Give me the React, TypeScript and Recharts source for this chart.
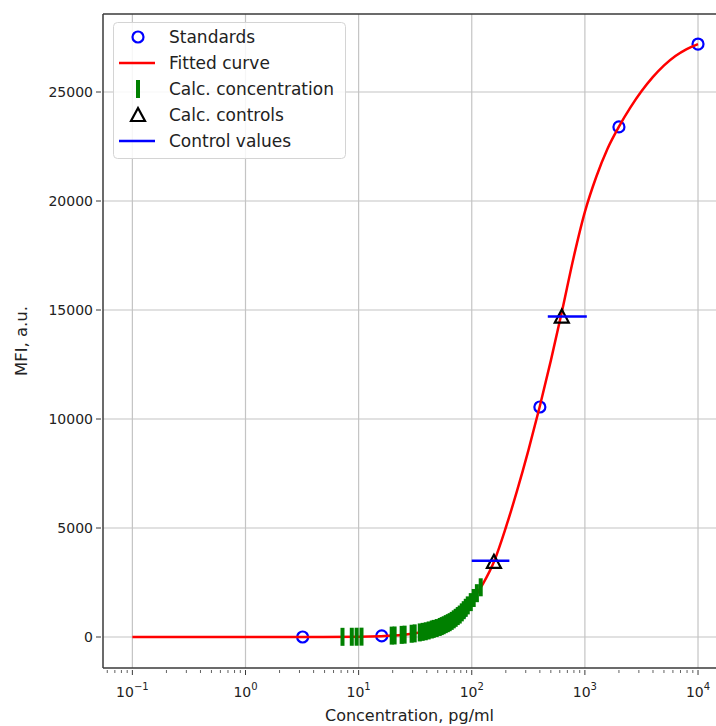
import React from 'react';
import { ComposedChart, Line, Scatter, XAxis, YAxis, ReferenceLine } from 'recharts';

// standards (5-fold dilution series)
const standardConc = [3.2, 16, 80, 400, 2000, 10000];
const standardMfi = [0, 50, 1100, 10550, 23400, 27200];

// fitted curve
const curveConc = [0.1, 1, 3.2, 10, 15.8, 20, 25.1, 31.6, 39.8, 50.1, 63.1, 79.4, 100, 125.9, 158.5, 199.5, 251.2, 316.2, 398.1, 501.2, 631, 794.3, 1000, 1259, 1585, 1995, 2512, 3162, 3981, 5012, 6310, 7943, 10000];
const curveMfi = [0, 0, 2, 15, 40, 65, 105, 170, 270, 420, 650, 1060, 1650, 2450, 3500, 5000, 6700, 8550, 10550, 12700, 15000, 17400, 19500, 21100, 22400, 23400, 24270, 25030, 25680, 26220, 26650, 26970, 27200];

// calculated sample concentrations
const sampleConc = [7.2, 8.7, 9.6, 10.6, 19.6, 20.8, 24, 25.5, 29.4, 31.3, 34.7, 36.8, 39.2, 41.6, 44.3, 46.1, 49, 52.1, 54.3, 56.5, 58.9, 61.4, 63.8, 66.5, 69.3, 72.1, 75.2, 78.3, 81.6, 84.9, 88.5, 92.2, 98, 104, 111, 120];
const sampleMfi = [8, 11, 13, 16, 63, 70, 97, 108, 149, 167, 210, 236, 263, 300, 344, 372, 410, 460, 500, 540, 590, 635, 680, 740, 810, 880, 960, 1030, 1130, 1230, 1340, 1450, 1600, 1790, 2010, 2280];

// controls
const controlConc = [157, 625];
const controlMfi = [3450, 14700];
const controlLow = [100, 470];
const controlHigh = [215, 1040];
const controlValue = [3500, 14700];

const xMajorTicks = [0.1, 1, 10, 100, 1000, 10000];
const xTickExp = ['\u22121', '0', '1', '2', '3', '4'];
const xMinorTicks = [
  0.06, 0.07, 0.08, 0.09,
  0.2, 0.3, 0.4, 0.5, 0.6, 0.7, 0.8, 0.9,
  2, 3, 4, 5, 6, 7, 8, 9,
  20, 30, 40, 50, 60, 70, 80, 90,
  200, 300, 400, 500, 600, 700, 800, 900,
  2000, 3000, 4000, 5000, 6000, 7000, 8000, 9000,
];
const yTicks = [0, 5000, 10000, 15000, 20000, 25000];

const xDomain = [0.055, 14420];
const yDomain = [-1422, 28578];

const FONT = '"DejaVu Sans", sans-serif';
const TEXT = '#222';
const SPINE = '#3a3a3a';
const GRID = '#c4c4c4';

const toPoints = (xs: number[], ys: number[]) => xs.map((x, i) => ({ x, y: ys[i] }));

const standards = toPoints(standardConc, standardMfi);
const curve = toPoints(curveConc, curveMfi);
const samples = toPoints(sampleConc, sampleMfi);
const controls = toPoints(controlConc, controlMfi);

const XTick = (props: any) => {
  const { x, y, payload } = props;
  const i = xMajorTicks.indexOf(payload.value);
  if (i < 0) {
    return <line x1={x} x2={x} y1={y} y2={y + 3} stroke={SPINE} strokeWidth={0.8} />;
  }
  return (
    <g>
      <line x1={x} x2={x} y1={y} y2={y + 5} stroke={SPINE} strokeWidth={1} />
      <text x={x} y={y + 27} textAnchor="middle" fontFamily={FONT} fontSize={14} fill={TEXT}>
        <tspan>10</tspan>
        <tspan dy={-7} fontSize={10}>{xTickExp[i]}</tspan>
      </text>
    </g>
  );
};

const YTick = (props: any) => {
  const { x, y, payload } = props;
  return (
    <g>
      <line x1={x - 5} x2={x} y1={y} y2={y} stroke={SPINE} strokeWidth={1} />
      <text x={x - 8} y={y} dy="0.35em" textAnchor="end" fontFamily={FONT} fontSize={14} fill={TEXT}>
        {payload.value}
      </text>
    </g>
  );
};

const Ring = (p: any) => (
  <circle cx={p.cx} cy={p.cy} r={5.5} fill="none" stroke="#0000ff" strokeWidth={2.2} />
);
const VBar = (p: any) => <rect x={p.cx - 2} y={p.cy - 9} width={4} height={18} fill="#008000" />;
const Tri = (p: any) => (
  <path
    d={`M${p.cx},${p.cy - 7} L${p.cx + 7},${p.cy + 6} L${p.cx - 7},${p.cy + 6} Z`}
    fill="none"
    stroke="#000"
    strokeWidth={2.2}
    strokeLinejoin="miter"
  />
);

const legendRows = ['Standards', 'Fitted curve', 'Calc. concentration', 'Calc. controls', 'Control values'];

const LegendBox = () => (
  <svg
    width={233}
    height={137}
    style={{ position: 'absolute', left: 113, top: 22 }}
  >
    <rect x={0.5} y={0.5} width={232} height={136} rx={4} fill="rgba(255,255,255,0.85)" stroke="#d4d4d4" />
    {legendRows.map((label, i) => {
      const cy = 15 + i * 26;
      let icon: React.ReactNode = null;
      if (i === 0) icon = <Ring cx={25} cy={cy} />;
      if (i === 1) icon = <line x1={6} x2={42} y1={cy} y2={cy} stroke="#ff0000" strokeWidth={2.5} />;
      if (i === 2) icon = <VBar cx={25} cy={cy} />;
      if (i === 3) icon = <Tri cx={25} cy={cy} />;
      if (i === 4) icon = <line x1={6} x2={42} y1={cy} y2={cy} stroke="#0000ff" strokeWidth={2.5} />;
      return (
        <g key={label}>
          {icon}
          <text x={56} y={cy} dy="0.35em" fontFamily={FONT} fontSize={17} fill={TEXT}>
            {label}
          </text>
        </g>
      );
    })}
  </svg>
);

export default function App() {
  return (
    <div style={{ position: 'absolute', left: 0, top: 0, width: 716, height: 726, overflow: 'hidden', background: '#fff' }}>
      <ComposedChart width={716} height={726} margin={{ top: 14, right: 0, bottom: 0, left: 0 }}>
        <XAxis
          dataKey="x"
          type="number"
          scale="log"
          domain={xDomain}
          allowDataOverflow
          ticks={[...xMajorTicks, ...xMinorTicks]}
          interval={0}
          tickSize={0}
          tickLine={false}
          tick={<XTick />}
          height={58}
          axisLine={{ stroke: SPINE, strokeWidth: 1.5 }}
          label={{
            content: (p: any) => (
              <text
                x={p.viewBox.x + p.viewBox.width / 2}
                y={p.viewBox.y + 53}
                textAnchor="middle"
                fontFamily={FONT}
                fontSize={16}
                fill={TEXT}
              >
                Concentration, pg/ml
              </text>
            ),
          }}
        />
        <YAxis
          dataKey="y"
          type="number"
          domain={yDomain}
          allowDataOverflow
          ticks={yTicks}
          interval={0}
          tickSize={0}
          tickLine={false}
          tick={<YTick />}
          width={103}
          axisLine={{ stroke: SPINE, strokeWidth: 1.5 }}
          label={{
            content: (p: any) => {
              const cx = p.viewBox.x + 21;
              const cy = p.viewBox.y + p.viewBox.height / 2;
              return (
                <text
                  x={cx}
                  y={cy}
                  dy="0.35em"
                  transform={`rotate(-90 ${cx} ${cy})`}
                  textAnchor="middle"
                  fontFamily={FONT}
                  fontSize={16.5}
                  fill={TEXT}
                >
                  MFI, a.u.
                </text>
              );
            },
          }}
        />
        {xMajorTicks.map((v) => (
          <ReferenceLine key={'gx' + v} x={v} stroke={GRID} strokeWidth={1.2} zIndex={-100} />
        ))}
        {yTicks.map((v) => (
          <ReferenceLine key={'gy' + v} y={v} stroke={GRID} strokeWidth={1.2} zIndex={-100} />
        ))}
        <ReferenceLine y={yDomain[1]} stroke={SPINE} strokeWidth={1.5} zIndex={500} />
        <Scatter data={standards} dataKey="y" shape={<Ring />} isAnimationActive={false} zIndex={610} />
        <Line
          data={curve}
          dataKey="y"
          type="monotone"
          stroke="#ff0000"
          strokeWidth={2.5}
          dot={false}
          activeDot={false}
          isAnimationActive={false}
          zIndex={620}
        />
        <Scatter data={samples} dataKey="y" shape={<VBar />} isAnimationActive={false} zIndex={630} />
        <Scatter data={controls} dataKey="y" shape={<Tri />} isAnimationActive={false} zIndex={640} />
        {controlValue.map((v, i) => (
          <ReferenceLine
            key={'cv' + i}
            segment={[
              { x: controlLow[i], y: v },
              { x: controlHigh[i], y: v },
            ]}
            stroke="#0000ff"
            strokeWidth={2.5}
            zIndex={650}
          />
        ))}
      </ComposedChart>
      <LegendBox />
    </div>
  );
}
